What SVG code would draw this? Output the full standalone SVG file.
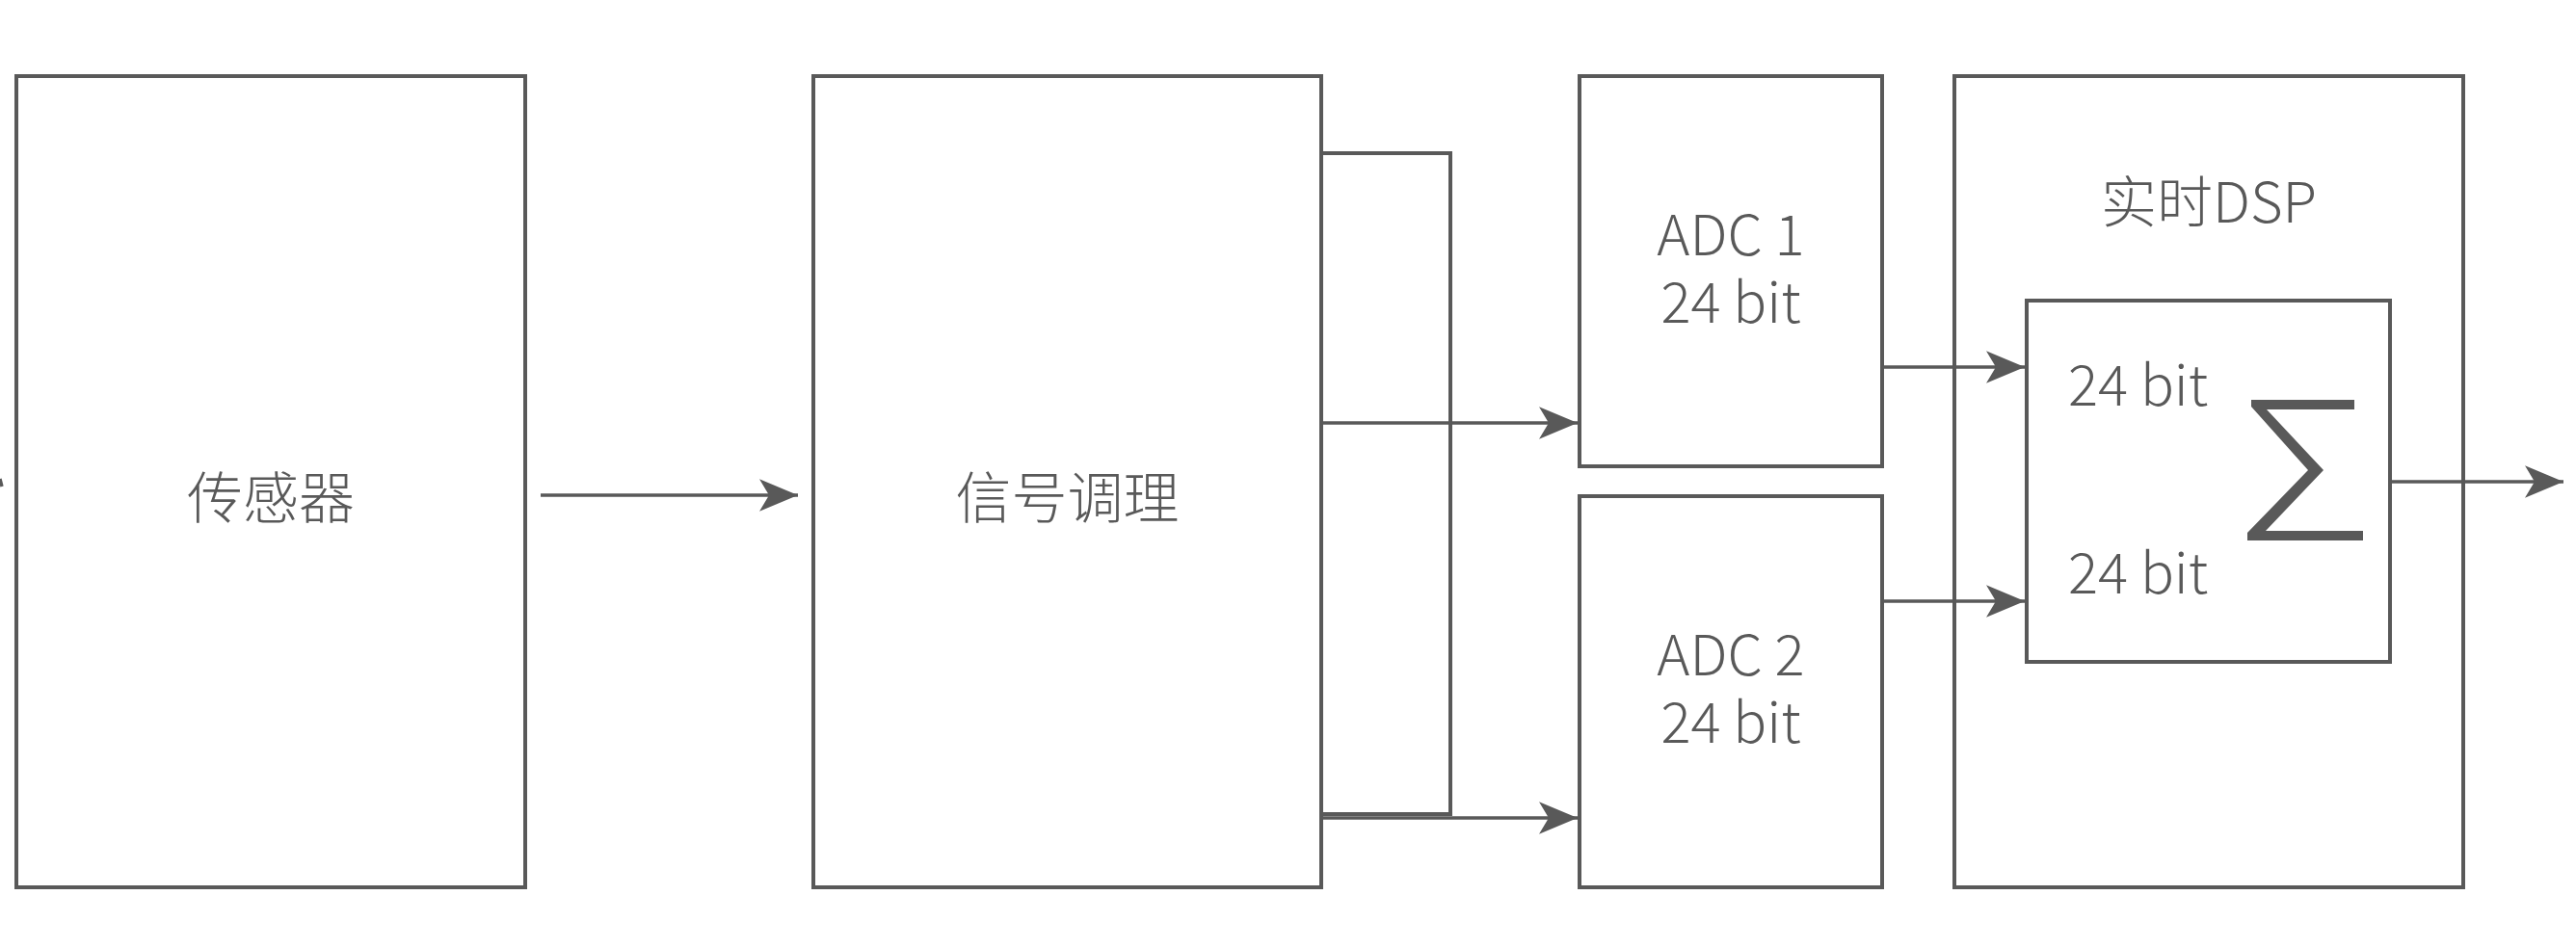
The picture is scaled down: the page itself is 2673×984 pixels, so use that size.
<svg xmlns="http://www.w3.org/2000/svg" width="2673" height="984" viewBox="0 0 2673 984">
<defs>
<style>
.box{fill:#ffffff;stroke:#595959;stroke-width:4}
.ln{fill:none;stroke:#595959;stroke-width:3.4}
.t{font-family:"Noto Sans CJK SC","Source Han Sans SC","Noto Sans",sans-serif;font-weight:300;font-size:58px;fill:#595959}
.c{text-anchor:middle}
</style>
<marker id="ah" markerUnits="userSpaceOnUse" markerWidth="50" markerHeight="40" viewBox="-42 -20 44 40" refX="0" refY="0" orient="auto">
<path d="M0,0 L-40,-16.7 L-30,0 L-40,16.7 Z" fill="#595959"/>
</marker>
</defs>
<rect width="2673" height="984" fill="#ffffff"/>
<g id="sensor">
<rect class="box" x="17" y="79" width="528" height="842"/>
<text class="t c" x="281" y="538">传感器</text>
</g>
<g id="conditioning">
<rect class="box" x="844" y="79" width="527" height="842"/>
<text class="t c" x="1107.5" y="538">信号调理</text>
</g>
<g id="bracket">
<rect class="box" x="1371" y="159" width="134" height="686"/>
</g>
<g id="adc1">
<rect class="box" x="1639" y="79" width="314" height="405"/>
<text class="t c" x="1796" y="265">ADC 1</text>
<text class="t c" x="1796" y="335">24 bit</text>
</g>
<g id="adc2">
<rect class="box" x="1639" y="515" width="314" height="406"/>
<text class="t c" x="1796" y="701">ADC 2</text>
<text class="t c" x="1796" y="771">24 bit</text>
</g>
<g id="dsp">
<rect class="box" x="2028" y="79" width="528" height="842"/>
<text class="t c" x="2292" y="231">实时DSP</text>
</g>
<g id="sum">
<rect class="box" x="2103" y="312" width="377" height="375"/>
<text class="t" x="2146" y="421">24 bit</text>
<text class="t" x="2146" y="616">24 bit</text>
<polygon fill="#595959" points="2336,415 2443,415 2443,425 2352,425 2411,488 2351,551 2452,551 2452,561 2332,561 2332,553 2395,488 2336,422"/>
</g>
<g id="connectors">
<path class="ln" d="M0,497 L2,505"/>
<path class="ln" d="M561,514 L828,514" marker-end="url(#ah)"/>
<path class="ln" d="M1371,439 L1637,439" marker-end="url(#ah)"/>
<path class="ln" d="M1371,849 L1637,849" marker-end="url(#ah)"/>
<path class="ln" d="M1953,381 L2101,381" marker-end="url(#ah)"/>
<path class="ln" d="M1953,624 L2101,624" marker-end="url(#ah)"/>
<path class="ln" d="M2480,500 L2660,500" marker-end="url(#ah)"/>
</g>
</svg>
